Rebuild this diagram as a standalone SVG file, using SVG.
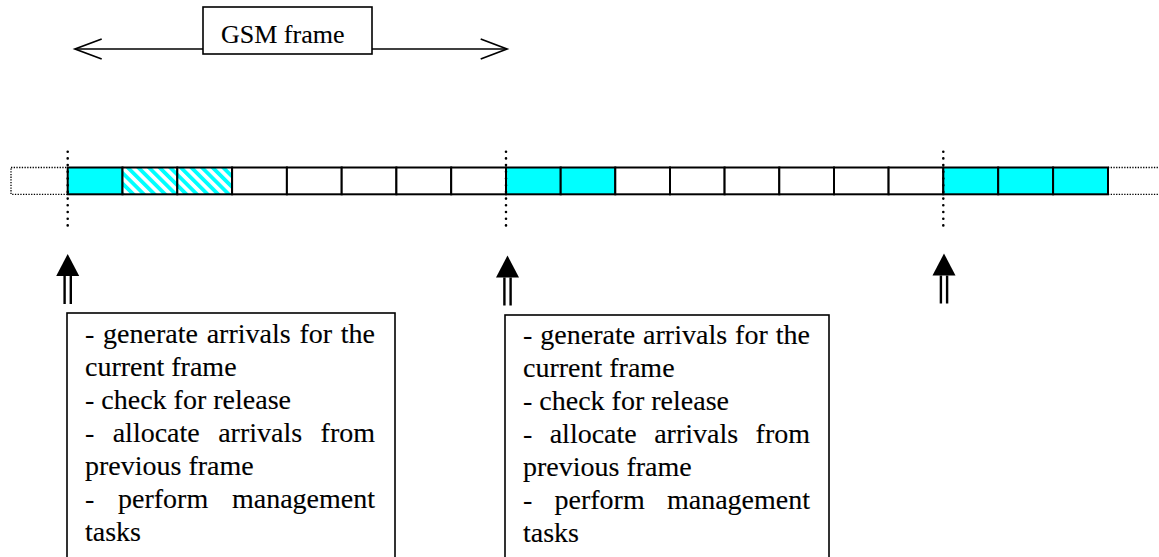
<svg xmlns="http://www.w3.org/2000/svg" width="1159" height="557" viewBox="0 0 1159 557">
  <style>
    .txt { font-family: "Liberation Serif", "Times New Roman", serif; font-size: 28px; fill: #000; stroke: #000; stroke-width: 0.12; }
    .lbl { font-family: "Liberation Serif", "Times New Roman", serif; font-size: 26px; fill: #000; stroke: #000; stroke-width: 0.12; }
    .box { fill: #fff; stroke: #000; stroke-width: 1.6; }
    .cell { fill: #fff; stroke: #000; stroke-width: 2; }
    .busy { fill: #00ffff; stroke: #000; stroke-width: 2; }
    .hatch { fill: url(#stripes); stroke: #000; stroke-width: 2; }
    .ghost { fill: none; stroke: #000; stroke-width: 1.3; stroke-dasharray: 1.3 1.4; }
    .tick { fill: none; stroke: #000; stroke-width: 2.6; stroke-linecap: round; stroke-dasharray: 0 6.7; }
    .span { fill: none; stroke: #000; stroke-width: 1.7; }
    .head { fill: #000; }
  </style>
  <defs>
    <pattern id="stripes" width="7.5" height="7.5" patternUnits="userSpaceOnUse" patternTransform="rotate(-45)">
      <rect width="7.5" height="7.5" fill="#fff"/>
      <rect width="3.8" height="7.5" fill="#00ffff"/>
    </pattern>
    <g id="up-arrow">
      <polygon class="head" points="0,0 -11.5,22 11.5,22"/>
      <rect x="-4.3" y="22" width="2.4" height="28" fill="#000"/>
      <rect x="1.9" y="22" width="2.4" height="28" fill="#000"/>
    </g>
  </defs>

  <rect width="1159" height="557" fill="#fff"/>

  <!-- frame length label -->
  <g id="gsm-frame">
    <rect class="box" x="203" y="7" width="169" height="47"/>
    <text class="lbl" x="221" y="43">GSM frame</text>
  </g>

  <!-- time-slot bar -->
  <g id="timeline">
    <rect class="ghost" x="11" y="167.5" width="56.7" height="26.8"/>
    <path class="ghost" d="M1108,167.5 H1162 M1108,194.3 H1162"/>

    <!-- frame 1 -->
    <rect class="busy" x="67.7" y="167.5" width="54.8" height="26.8"/>
    <rect class="hatch" x="122.5" y="167.5" width="54.8" height="26.8"/>
    <rect class="hatch" x="177.3" y="167.5" width="54.8" height="26.8"/>
    <rect class="cell" x="232.1" y="167.5" width="54.8" height="26.8"/>
    <rect class="cell" x="286.9" y="167.5" width="54.8" height="26.8"/>
    <rect class="cell" x="341.7" y="167.5" width="54.7" height="26.8"/>
    <rect class="cell" x="396.4" y="167.5" width="54.8" height="26.8"/>
    <rect class="cell" x="451.2" y="167.5" width="54.8" height="26.8"/>

    <!-- frame 2 -->
    <rect class="busy" x="506" y="167.5" width="54.7" height="26.8"/>
    <rect class="busy" x="560.7" y="167.5" width="54.6" height="26.8"/>
    <rect class="cell" x="615.3" y="167.5" width="54.7" height="26.8"/>
    <rect class="cell" x="670" y="167.5" width="54.6" height="26.8"/>
    <rect class="cell" x="724.6" y="167.5" width="54.7" height="26.8"/>
    <rect class="cell" x="779.3" y="167.5" width="54.7" height="26.8"/>
    <rect class="cell" x="834" y="167.5" width="54.6" height="26.8"/>
    <rect class="cell" x="888.6" y="167.5" width="54.7" height="26.8"/>

    <!-- frame 3 -->
    <rect class="busy" x="943.3" y="167.5" width="54.9" height="26.8"/>
    <rect class="busy" x="998.2" y="167.5" width="54.9" height="26.8"/>
    <rect class="busy" x="1053.1" y="167.5" width="54.9" height="26.8"/>

    <!-- frame boundaries -->
    <line class="tick" x1="67.7" y1="151.7" x2="67.7" y2="226"/>
    <line class="tick" x1="506" y1="151.7" x2="506" y2="226"/>
    <line class="tick" x1="943.3" y1="151.7" x2="943.3" y2="226"/>
  </g>

  <!-- per-frame task list, frame 1 -->
  <g id="tasks-1">
    <rect class="box" x="67" y="313" width="328" height="300"/>
    <text class="txt"><tspan x="85" y="343">-</tspan><tspan x="103.1" y="343">generate</tspan><tspan x="206.7" y="343">arrivals</tspan><tspan x="299.5" y="343">for</tspan><tspan x="375" y="343" text-anchor="end">the</tspan></text>
    <text class="txt" x="85" y="376">current frame</text>
    <text class="txt" x="85" y="409">- check for release</text>
    <text class="txt"><tspan x="85" y="442">-</tspan><tspan x="112.7" y="442">allocate</tspan><tspan x="218.2" y="442">arrivals</tspan><tspan x="375" y="442" text-anchor="end">from</tspan></text>
    <text class="txt" x="85" y="475">previous frame</text>
    <text class="txt"><tspan x="85" y="508">-</tspan><tspan x="118" y="508">perform</tspan><tspan x="375" y="508" text-anchor="end">management</tspan></text>
    <text class="txt" x="85" y="541">tasks</text>
  </g>

  <!-- per-frame task list, frame 2 -->
  <g id="tasks-2">
    <rect class="box" x="505" y="315" width="324" height="300"/>
    <text class="txt"><tspan x="523" y="344">-</tspan><tspan x="540.3" y="344">generate</tspan><tspan x="643.1" y="344">arrivals</tspan><tspan x="735.1" y="344">for</tspan><tspan x="810" y="344" text-anchor="end">the</tspan></text>
    <text class="txt" x="523" y="377">current frame</text>
    <text class="txt" x="523" y="410">- check for release</text>
    <text class="txt"><tspan x="523" y="443">-</tspan><tspan x="549.7" y="443">allocate</tspan><tspan x="654.2" y="443">arrivals</tspan><tspan x="810" y="443" text-anchor="end">from</tspan></text>
    <text class="txt" x="523" y="476">previous frame</text>
    <text class="txt"><tspan x="523" y="509">-</tspan><tspan x="554.5" y="509">perform</tspan><tspan x="810" y="509" text-anchor="end">management</tspan></text>
    <text class="txt" x="523" y="542">tasks</text>
  </g>

  <!-- connectors -->
  <g id="connectors">
    <line class="span" x1="75" y1="49" x2="203" y2="49"/>
    <line class="span" x1="372" y1="49" x2="507" y2="49"/>
    <polyline class="span" points="101.7,39 75,49 101.7,59"/>
    <polyline class="span" points="480.7,39 507,49 480.7,59"/>
    <use href="#up-arrow" x="67.7" y="254"/>
    <use href="#up-arrow" x="507.5" y="255.5"/>
    <use href="#up-arrow" x="944" y="253.5"/>
  </g>
</svg>
